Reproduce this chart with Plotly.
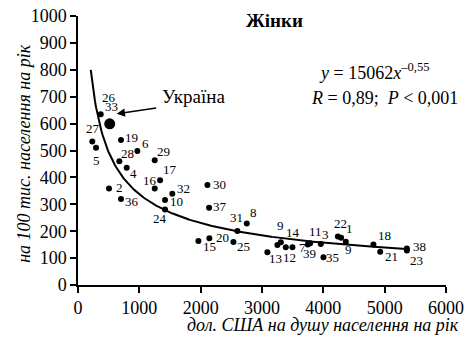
import numpy as np
import plotly.graph_objects as go

# ---- data ----
labels = ["26", "27", "5", "19", "6", "28", "29", "4", "17", "16", "2", "36", "32", "10", "24",
          "30", "37", "31", "8", "20", "15", "25", "14", "9", "12", "7", "13", "39", "11", "3",
          "35", "22", "1", "9", "18", "21", "38", "23"]
gdp = [370, 233, 294, 701, 968, 674, 1251, 794, 1338, 1251, 506, 701, 1538, 1419, 1419,
       2110, 2137, 2599, 2752, 2142, 1963, 2534, 3251, 3307, 3388, 3496, 3088, 3747, 3785, 3959,
       4002, 4237, 4290, 4367, 4817, 4927, 5362, 5362]
mortality = [635, 533, 510, 539, 498, 460, 464, 436, 389, 359, 359, 320, 339, 316, 281,
             372, 287, 201, 229, 174, 164, 160, 149, 159, 140, 140, 122, 151, 155, 152,
             103, 180, 176, 161, 151, 124, 136, 128]

ukraine_label = "33"
ukraine_gdp = 517
ukraine_mortality = 599

# fitted trend stated on the chart: y = 15062 * x^-0.55
fit_a = 15062
fit_b = -0.55
fit_x_min, fit_x_max = 208, 5350

x_ticks = [0, 1000, 2000, 3000, 4000, 5000, 6000]
y_ticks = [0, 100, 200, 300, 400, 500, 600, 700, 800, 900, 1000]

# label offsets in pixels (dx right, dy down) -- style, not data
label_offsets = [(8, -17), (1, -13), (0, 13), (11, -3), (8, -8), (8, -8), (9, -9), (7, 6),
                 (10, -11), (-5, -8), (10, -1), (11, 3), (11, -5), (11, 1), (-5, 9),
                 (12, 0), (11, -1), (-1, -13), (7, -11), (13, -1), (11, 6), (10, 5),
                 (16, -12), (0, -17), (4, 10), (10, 0), (8, 6), (2, 9), (5, -12), (5, -10),
                 (9, 0), (3, -13), (8, -9), (3, 8), (11, -9), (11, 5), (13, -2), (10, 10)]
ukraine_offset = (2, -17)

FONT = "Liberation Serif"

fig = go.Figure()

fx = np.linspace(fit_x_min, fit_x_max, 300)
fy = fit_a * fx ** fit_b
fig.add_trace(go.Scatter(x=fx, y=fy, mode="lines", line=dict(color="black", width=2),
                         hoverinfo="skip", showlegend=False))

fig.add_trace(go.Scatter(x=gdp, y=mortality, mode="markers",
                         marker=dict(color="black", size=6, line=dict(width=0)), showlegend=False))
fig.add_trace(go.Scatter(x=[ukraine_gdp], y=[ukraine_mortality], mode="markers",
                         marker=dict(color="black", size=11, line=dict(width=0)), showlegend=False))


def txt(**kw):
    base = dict(showarrow=False, xanchor="center", yanchor="middle")
    base.update(kw)
    return base


annotations = []
for lab, xv, yv, (dx, dy) in zip(labels, gdp, mortality, label_offsets):
    annotations.append(txt(x=xv, y=yv, xref="x", yref="y", text=lab,
                           xshift=dx, yshift=-dy, font=dict(family=FONT, size=13, color="black")))
annotations.append(txt(x=ukraine_gdp, y=ukraine_mortality, xref="x", yref="y", text=ukraine_label,
                       xshift=ukraine_offset[0], yshift=-ukraine_offset[1],
                       font=dict(family=FONT, size=13, color="black")))
# arrow to Ukraine
annotations.append(dict(x=ukraine_gdp, y=ukraine_mortality, xref="x", yref="y", text="",
                        showarrow=True, xshift=7, yshift=10, ax=41, ay=-6,
                        arrowhead=2, arrowsize=1.1, arrowwidth=1.5, arrowcolor="black"))
annotations.append(txt(x=ukraine_gdp, y=ukraine_mortality, xref="x", yref="y", text="Україна",
                       xshift=84, yshift=27, font=dict(family=FONT, size=19, color="black")))

# title and equation
annotations.append(txt(x=0.535, y=0.985, xref="paper", yref="paper", text="<b>Жінки</b>",
                       font=dict(family=FONT, size=19, color="black")))
annotations.append(txt(x=0.807, y=0.792, xref="paper", yref="paper",
                       text="<i>y</i> = 15062<i>x</i><sup>–0,55</sup>",
                       font=dict(family=FONT, size=18, color="black")))
annotations.append(txt(x=0.832, y=0.695, xref="paper", yref="paper",
                       text="<i>R</i> = 0,89;  <i>P</i> &lt; 0,001",
                       font=dict(family=FONT, size=18, color="black")))
# axis titles
annotations.append(txt(x=1.041, y=-0.149, xref="paper", yref="paper", xanchor="right",
                       text="<i>дол. США на душу населення на рік</i>",
                       font=dict(family=FONT, size=18, color="black")))
annotations.append(txt(x=-0.147, y=0.491, xref="paper", yref="paper", textangle=-90,
                       text="<i>на 100 тис. населення на рік</i>",
                       font=dict(family=FONT, size=18, color="black")))

fig.update_layout(
    template="none",
    width=473, height=337,
    margin=dict(l=78, r=27, t=16, b=52),
    paper_bgcolor="white", plot_bgcolor="white",
    showlegend=False,
    annotations=annotations,
    font=dict(family=FONT, size=18, color="black"),
)
fig.update_xaxes(range=[0, 6000], tickvals=x_ticks, ticks="outside", ticklen=6, tickwidth=1.5,
                 tickcolor="black", showline=True, linecolor="black", linewidth=1.5,
                 showgrid=False, zeroline=False, automargin=False,
                 tickfont=dict(family=FONT, size=18, color="black"))
fig.update_yaxes(range=[0, 1000], tickvals=y_ticks, ticks="outside", ticklen=6, tickwidth=1.5,
                 tickcolor="black", showline=True, linecolor="black", linewidth=1.5,
                 showgrid=False, zeroline=False, automargin=False,
                 tickfont=dict(family=FONT, size=18, color="black"))

fig.write_html("out.html")
